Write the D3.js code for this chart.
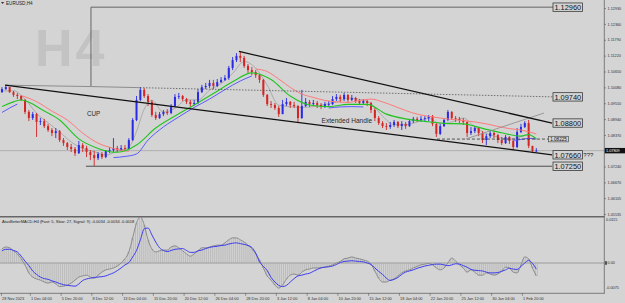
<!DOCTYPE html>
<html>
<head>
<meta charset="utf-8">
<script src="https://cdnjs.cloudflare.com/ajax/libs/d3/7.8.5/d3.min.js"></script>
<style>
  body { margin: 0; background: #d4d4d4; }
  svg { display: block; font-family: "Liberation Sans", Arial, sans-serif; }
</style>
</head>
<body>
<div class="chart"></div>
<script>
// candles, one per two H4 bars, open = previous close
var firstOpen = 1.0991;
var closes = [1.1002,1.1009,1.0991,1.0981,1.0977,1.0963,1.0920,1.0898,1.0912,1.0884,
1.0887,1.0869,1.0855,1.0844,1.0851,1.0819,1.0808,1.0794,1.0787,1.0772,
1.0801,1.0790,1.0776,1.0765,1.0754,1.0769,1.0758,1.0780,1.0783,1.0790,
1.0783,1.0790,1.0787,1.0819,1.0891,1.0963,1.0999,1.0977,1.0956,1.0909,
1.0898,1.0912,1.0920,1.0916,1.0941,1.0974,1.0977,1.0966,1.0956,1.0948,
1.0952,1.0991,1.1009,1.1013,1.1024,1.1013,1.1027,1.1035,1.1042,1.1078,
1.1106,1.1121,1.1114,1.1085,1.1070,1.1063,1.1052,1.1035,1.0981,1.0948,
1.0945,1.0934,1.0912,1.0948,1.0956,1.0945,1.0941,1.0898,1.0941,1.0956,
1.0948,1.0952,1.0945,1.0941,1.0948,1.0948,1.0966,1.0974,1.0966,1.0981,
1.0963,1.0970,1.0959,1.0952,1.0959,1.0952,1.0927,1.0898,1.0880,1.0869,
1.0866,1.0873,1.0884,1.0869,1.0877,1.0869,1.0887,1.0895,1.0891,1.0895,
1.0898,1.0905,1.0877,1.0841,1.0869,1.0891,1.0920,1.0898,1.0895,1.0891,
1.0884,1.0844,1.0851,1.0862,1.0844,1.0819,1.0833,1.0844,1.0837,1.0819,
1.0808,1.0830,1.0816,1.0794,1.0848,1.0866,1.0880,1.0798,1.0780,1.0781];
var highs = [1.1009,1.1015,1.1009,1.0995,1.0988,1.0981,1.0966,1.0927,1.0920,1.0916,
1.0898,1.0895,1.0877,1.0862,1.0862,1.0855,1.0826,1.0812,1.0805,1.0794,
1.0816,1.0808,1.0798,1.0783,1.0780,1.0776,1.0776,1.0783,1.0794,1.0826,
1.0798,1.0801,1.0801,1.0826,1.0898,1.0977,1.1009,1.1006,1.0984,1.0963,
1.0920,1.0920,1.0927,1.0930,1.0948,1.0984,1.0988,1.0981,1.0970,1.0963,
1.0963,1.1002,1.1017,1.1024,1.1035,1.1035,1.1038,1.1045,1.1052,1.1085,
1.1117,1.1131,1.1137,1.1121,1.1092,1.1081,1.1070,1.1056,1.1038,1.0984,
1.0959,1.0952,1.0941,1.0963,1.0970,1.0959,1.0956,1.0945,1.0999,1.0970,
1.0963,1.0963,1.0959,1.0952,1.0956,1.0959,1.0977,1.0984,1.0981,1.0988,
1.0984,1.0981,1.0974,1.0966,1.0966,1.0963,1.0956,1.0934,1.0905,1.0887,
1.0880,1.0884,1.0891,1.0887,1.0887,1.0884,1.0895,1.0902,1.0902,1.0905,
1.0905,1.0909,1.0909,1.0880,1.0877,1.0898,1.0927,1.0923,1.0905,1.0902,
1.0898,1.0887,1.0866,1.0869,1.0866,1.0851,1.0841,1.0851,1.0851,1.0841,
1.0830,1.0837,1.0833,1.0819,1.0862,1.0877,1.0887,1.0891,1.0798,1.0790];
var lows = [1.0988,1.0999,1.0988,1.0974,1.0966,1.0959,1.0912,1.0887,1.0891,1.0830,
1.0873,1.0862,1.0848,1.0833,1.0826,1.0812,1.0798,1.0783,1.0776,1.0762,
1.0769,1.0776,1.0758,1.0747,1.0726,1.0747,1.0751,1.0754,1.0772,1.0776,
1.0776,1.0780,1.0780,1.0783,1.0816,1.0887,1.0959,1.0970,1.0941,1.0902,
1.0891,1.0895,1.0905,1.0909,1.0912,1.0938,1.0966,1.0959,1.0948,1.0938,
1.0941,1.0948,1.0988,1.1002,1.1006,1.1002,1.1009,1.1024,1.1031,1.1035,
1.1070,1.1099,1.1099,1.1078,1.1060,1.1052,1.1042,1.1024,1.0974,1.0941,
1.0934,1.0927,1.0902,1.0912,1.0941,1.0934,1.0934,1.0880,1.0895,1.0938,
1.0938,1.0941,1.0934,1.0930,1.0934,1.0941,1.0945,1.0959,1.0956,1.0959,
1.0952,1.0959,1.0952,1.0945,1.0948,1.0941,1.0916,1.0887,1.0873,1.0862,
1.0855,1.0859,1.0866,1.0862,1.0855,1.0859,1.0866,1.0880,1.0884,1.0884,
1.0887,1.0887,1.0869,1.0830,1.0837,1.0866,1.0887,1.0891,1.0884,1.0880,
1.0873,1.0830,1.0837,1.0844,1.0833,1.0808,1.0801,1.0826,1.0826,1.0808,
1.0801,1.0805,1.0805,1.0783,1.0790,1.0844,1.0862,1.0790,1.0772,1.0776];

// moving averages, [candle index, price]
var maGreen = [[0,1.0939],[3,1.0956],[5,1.0963],[8,1.0948],[10,1.0931],[15,1.0891],[20,1.0823],[25,1.0789],[30,1.0775],[35,1.0801],[40,1.0862],[45,1.0905],[50,1.0945],[55,1.0986],[60,1.1028],[65,1.1060],[70,1.1036],[75,1.0977],[80,1.0945],[85,1.0939],[90,1.0947],[95,1.0947],[100,1.0912],[105,1.0895],[110,1.0886],[115,1.0879],[120,1.0877],[125,1.0861],[130,1.0845],[135,1.0833],[137,1.0839],[139,1.0823]];
var maRed = [
  [[5,1.0979],[9,1.0957],[13,1.0923],[17,1.0891],[21,1.0844],[25,1.0808],[29,1.0789],[33,1.0778]],
  [[66,1.1074],[69,1.1065],[72,1.1038],[75,1.1008],[78,1.0984],[81,1.0972],[84,1.0961],[87,1.0956],[90,1.0954],[93,1.0961],[96,1.0966],[99,1.0956],[102,1.0941],[105,1.0925],[108,1.0912],[111,1.0904],[114,1.0898],[117,1.0893],[120,1.0889],[123,1.0884],[126,1.0877],[129,1.0868],[132,1.0860],[135,1.0855],[139,1.0841]]
];
var maBlue = [
  [[0,1.0918],[2,1.0934],[4,1.0948]],
  [[29,1.0756],[32,1.0760],[35,1.0769],[38,1.0819],[42,1.0866],[46,1.0902],[50,1.0936],[54,1.0966],[58,1.1000],[62,1.1031],[65,1.1049]],
  [[85,1.0934],[88,1.0938],[91,1.0939],[94,1.0938]],
  [[133,1.0818],[135,1.0821],[137,1.0825],[139,1.0823]]
];
// thin grey fast average
var maGrey = [[0,1.0995],[3,1.0996],[6,1.0966],[9,1.0915],[12,1.0881],[15,1.0848],[18,1.0812],[21,1.0789],[24,1.0777],[27,1.0765],[30,1.0779],[33,1.0794],[35,1.0850],[37,1.0930],[39,1.0961],[42,1.0919],[45,1.0933],[48,1.0963],[51,1.0963],[54,1.0998],[57,1.1022],[60,1.1058],[63,1.1101],[66,1.1077],[69,1.1016],[72,1.0944],[75,1.0939],[78,1.0936],[81,1.0939],[84,1.0947],[87,1.0955],[90,1.0970],[93,1.0965],[96,1.0950],[99,1.0905],[102,1.0874],[105,1.0874],[108,1.0884],[111,1.0897],[114,1.0878],[117,1.0884],[120,1.0898],[123,1.0866],[126,1.0842],[129,1.0830],[132,1.0822],[135,1.0831],[137,1.0837],[139,1.0821]];

// macd per candle
var macdMain = [0.0037,0.0042,0.0040,0.0032,0.0024,0.0011,-0.0005,-0.0026,-0.0037,-0.0042,
-0.0045,-0.0050,-0.0053,-0.0050,-0.0055,-0.0062,-0.0061,-0.0058,-0.0053,-0.0045,
-0.0037,-0.0034,-0.0032,-0.0037,-0.0040,-0.0032,-0.0024,-0.0018,-0.0016,-0.0013,
-0.0008,0.0000,0.0011,0.0029,0.0066,0.0105,0.0122,0.0100,0.0061,0.0037,
0.0029,0.0032,0.0034,0.0034,0.0042,0.0045,0.0040,0.0032,0.0024,0.0018,
0.0024,0.0032,0.0040,0.0040,0.0042,0.0045,0.0047,0.0047,0.0053,0.0061,
0.0066,0.0066,0.0061,0.0055,0.0047,0.0037,0.0024,0.0008,-0.0013,-0.0034,
-0.0045,-0.0058,-0.0066,-0.0058,-0.0042,-0.0032,-0.0029,-0.0032,-0.0024,-0.0018,
-0.0016,-0.0013,-0.0013,-0.0012,-0.0011,-0.0008,-0.0005,0.0000,0.0004,0.0011,
0.0013,0.0016,0.0013,0.0011,0.0008,0.0005,-0.0003,-0.0021,-0.0040,-0.0050,
-0.0050,-0.0045,-0.0042,-0.0034,-0.0026,-0.0021,-0.0018,-0.0013,-0.0009,-0.0005,
-0.0003,-0.0001,-0.0005,-0.0013,-0.0018,-0.0013,0.0000,0.0013,0.0005,-0.0005,
-0.0013,-0.0024,-0.0018,-0.0024,-0.0032,-0.0032,-0.0026,-0.0029,-0.0032,-0.0029,
-0.0021,-0.0011,-0.0013,-0.0024,-0.0026,-0.0005,0.0016,0.0011,-0.0013,-0.0034];
var macdSignal = [0.0032,0.0036,0.0036,0.0033,0.0029,0.0018,0.0005,-0.0007,-0.0021,-0.0030,
-0.0037,-0.0041,-0.0043,-0.0047,-0.0050,-0.0054,-0.0057,-0.0059,-0.0060,-0.0061,
-0.0055,-0.0046,-0.0042,-0.0040,-0.0038,-0.0037,-0.0036,-0.0034,-0.0030,-0.0026,
-0.0020,-0.0013,-0.0005,0.0001,0.0016,0.0033,0.0061,0.0090,0.0092,0.0074,
0.0055,0.0040,0.0033,0.0030,0.0033,0.0036,0.0037,0.0038,0.0033,0.0028,
0.0028,0.0032,0.0034,0.0038,0.0041,0.0043,0.0044,0.0046,0.0047,0.0050,
0.0052,0.0053,0.0051,0.0049,0.0046,0.0041,0.0026,0.0003,-0.0009,-0.0020,
-0.0038,-0.0050,-0.0059,-0.0062,-0.0059,-0.0050,-0.0041,-0.0034,-0.0032,-0.0029,
-0.0027,-0.0022,-0.0017,-0.0013,-0.0011,-0.0010,-0.0008,-0.0004,0.0001,0.0004,
0.0005,0.0006,0.0005,0.0004,0.0003,0.0000,-0.0004,-0.0013,-0.0022,-0.0030,
-0.0040,-0.0046,-0.0043,-0.0038,-0.0030,-0.0024,-0.0021,-0.0018,-0.0014,-0.0011,
-0.0008,-0.0006,-0.0004,-0.0003,-0.0003,-0.0005,-0.0007,-0.0005,-0.0002,-0.0003,
-0.0007,-0.0011,-0.0017,-0.0019,-0.0020,-0.0021,-0.0024,-0.0026,-0.0026,-0.0025,
-0.0022,-0.0018,-0.0014,-0.0016,-0.0017,-0.0009,0.0000,0.0007,-0.0001,-0.0016];

// axes
var priceTicks = [1.12930,1.12360,1.11790,1.11220,1.10650,1.10080,1.09510,1.08940,1.08370,1.07240,1.06670,1.06105,1.05535];
var lastPrice = 1.07809;
var tickBars = [0,15,31,47,63,79,95,111,127,143,159,175,191,207,223,239,255,271];
var timeLabels = ["28 Nov 2023","1 Dec 04:00","5 Dec 20:00","8 Dec 12:00","13 Dec 04:00","15 Dec 20:00","20 Dec 12:00","26 Dec 04:00","28 Dec 20:00","3 Jan 12:00","8 Jan 04:00","10 Jan 20:00","15 Jan 12:00","18 Jan 04:00","22 Jan 20:00","25 Jan 12:00","30 Jan 04:00","1 Feb 20:00"];

// drawn objects, [H4 bar, price]
var cupRim = [[2.1,1.1016],[46.8,1.1011],[72.3,1.1007]];
var cupTop = [[46.8,1.1013],[46.8,1.1296],[287.5,1.1296]];
var lowerChannel = [[2.1,1.1016],[286.7,1.0766]];
var upperChannel = [[123.8,1.1137],[286.7,1.0880]];
var handleTop = [[72.3,1.1007],[287.5,1.0974]];
var cupLow = [[44.2,1.0725],[286.7,1.0725]];
var pivotLine = [[226.8,1.08225],[285.1,1.08225]];
var riseLine = [[241.9,1.0823],[282.5,1.0916]];
var levelLabels = ["1.12960","1.09740","1.08800","1.07660","1.07250"];
var levelPrices = [1.12960,1.09740,1.08800,1.07660,1.07250];

var width = 625, height = 303;

var svg = d3.select(".chart").append("svg")
    .attr("width", width)
    .attr("height", height);

svg.append("rect").attr("width", width).attr("height", height).attr("fill", "#d4d4d4");

var x = d3.scaleLinear().domain([0, 280]).range([1, 539.2]);
var y = d3.scaleLinear().domain([1.05535, 1.12930]).range([214, 8]);
var my = d3.scaleLinear().domain([-0.0075, 0.0115]).range([291.5, 219.3]);

// candle k sits on the middle of its two H4 bars
function cx(k) { return x(2 * k + 0.5); }

var defs = svg.append("defs");
defs.append("clipPath").attr("id", "pclip").append("rect")
  .attr("x", 0).attr("y", 0).attr("width", 604).attr("height", 216);
defs.append("clipPath").attr("id", "mclip").append("rect")
  .attr("x", 0).attr("y", 217.5).attr("width", 604).attr("height", 75.5);

// watermark and title
svg.append("text").attr("x", 35).attr("y", 66)
  .style("font-size", "52px").style("font-weight", "bold").style("letter-spacing", "3px")
  .attr("fill", "#c3c3c3").text("H4");
svg.append("path").attr("d", "M1,2 L4.2,2 L2.6,4 Z").attr("fill", "#333");
svg.append("text").attr("x", 6).attr("y", 5).style("font-size", "4.6px").attr("fill", "#222").text("EURUSD,H4");

var price = svg.append("g").attr("clip-path", "url(#pclip)");

// current price line
price.append("line")
  .attr("x1", 0).attr("x2", 604).attr("y1", y(lastPrice)).attr("y2", y(lastPrice))
  .attr("stroke", "#a6a6a6").attr("stroke-width", 0.8);

var barLine = d3.line().x(function (d) { return x(d[0]); }).y(function (d) { return y(d[1]); });

// user objects
function drawObj(pts, color, w, dash) {
  svg.append("path").attr("d", barLine(pts))
    .attr("fill", "none").attr("stroke", color).attr("stroke-width", w)
    .attr("stroke-dasharray", dash || null);
}
drawObj(cupTop, "#5a5a5a", 0.9);
drawObj(cupRim, "#7a7a7a", 0.8);
drawObj(handleTop, "#555", 0.8, "1.5,1.5");
drawObj(cupLow, "#3c3c3c", 0.9);
drawObj(pivotLine, "#333", 0.8, "3,2");
drawObj(riseLine, "#8c8c8c", 0.8);

var maLine = d3.line().x(function (d) { return cx(d[0]); }).y(function (d) { return y(d[1]); })
  .curve(d3.curveMonotoneX);

// grey fast line under the candles
price.append("path").attr("d", maLine(maGrey)).attr("fill", "none")
  .attr("stroke", "#9a9a9a").attr("stroke-width", 0.7);

// candles
var candles = closes.map(function (c, k) {
  return { k: k, o: k === 0 ? firstOpen : closes[k - 1], h: highs[k], l: lows[k], c: c };
});
var cg = price.selectAll(".candle").data(candles).enter().append("g").attr("class", "candle");
cg.append("line")
  .attr("x1", function (d) { return cx(d.k); })
  .attr("x2", function (d) { return cx(d.k); })
  .attr("y1", function (d) { return y(d.h); })
  .attr("y2", function (d) { return y(d.l); })
  .attr("stroke", function (d) { return d.c >= d.o ? "#2a2ae6" : "#d42424"; })
  .attr("stroke-width", 0.9);
cg.append("rect")
  .attr("x", function (d) { return cx(d.k) - 1; })
  .attr("width", 2)
  .attr("y", function (d) { return y(Math.max(d.o, d.c)); })
  .attr("height", function (d) { return Math.max(0.8, Math.abs(y(d.o) - y(d.c))); })
  .attr("fill", function (d) { return d.c >= d.o ? "#2a2ae6" : "#d42424"; });

// moving averages
maRed.forEach(function (seg) {
  price.append("path").attr("d", maLine(seg)).attr("fill", "none")
    .attr("stroke", "#ff7a7a").attr("stroke-width", 1);
});
maBlue.forEach(function (seg) {
  price.append("path").attr("d", maLine(seg)).attr("fill", "none")
    .attr("stroke", "#5a5aff").attr("stroke-width", 1);
});
price.append("path").attr("d", maLine(maGreen)).attr("fill", "none")
  .attr("stroke", "#22c422").attr("stroke-width", 1.1);

// channel lines
drawObj(lowerChannel, "#111", 1.3);
drawObj(upperChannel, "#111", 1.3);

// text objects
svg.append("text").attr("x", 87).attr("y", 115.7).style("font-size", "6.3px").attr("fill", "#2a2a2a").text("CUP");
svg.append("text").attr("x", 321.5).attr("y", 122.7).style("font-size", "6.6px").attr("fill", "#2a2a2a").text("Extended Handle");

// level labels
var lab = svg.selectAll(".lvl").data(levelPrices).enter().append("g").attr("class", "lvl");
lab.append("rect")
  .attr("x", 553).attr("y", function (d) { return y(d) - 4.2; })
  .attr("width", 29.5).attr("height", 8.4)
  .attr("fill", "#d4d4d4").attr("stroke", "#3a3a3a").attr("stroke-width", 0.8);
lab.append("text")
  .attr("x", 567.8).attr("y", function (d) { return y(d) + 2.8; })
  .attr("text-anchor", "middle").style("font-size", "7.4px").attr("fill", "#111")
  .text(function (d, i) { return levelLabels[i]; });
svg.append("rect").attr("x", 548.5).attr("y", y(1.08225) - 2.8).attr("width", 20).attr("height", 5.6)
  .attr("fill", "#d4d4d4").attr("stroke", "#3a3a3a").attr("stroke-width", 0.6);
svg.append("text").attr("x", 558.5).attr("y", y(1.08225) + 1.7).attr("text-anchor", "middle")
  .style("font-size", "4.6px").attr("fill", "#111").text("1.08225");
svg.append("text").attr("x", 583.3).attr("y", y(1.07660) + 2.2).style("font-size", "6px").attr("fill", "#222").text("???");

// price axis
var yAxis = d3.axisRight(y).tickValues(priceTicks).tickFormat(d3.format(".5f")).tickSize(2).tickPadding(1.5);
var ya = svg.append("g").attr("transform", "translate(604,0)").call(yAxis);
ya.select(".domain").remove();
ya.selectAll("line").attr("stroke", "#555").attr("stroke-width", 0.6);
ya.selectAll("text").style("font-size", "3.8px").attr("fill", "#333");

svg.append("rect").attr("x", 604.5).attr("y", y(lastPrice) - 2.7).attr("width", 20.5).attr("height", 5.4).attr("fill", "#111");
svg.append("text").attr("x", 606).attr("y", y(lastPrice) + 1.4).style("font-size", "3.8px").attr("fill", "#fff").text(lastPrice.toFixed(5));

// macd panel
var macd = svg.append("g").attr("clip-path", "url(#mclip)");
macd.append("line").attr("x1", 0).attr("x2", 604).attr("y1", my(0)).attr("y2", my(0))
  .attr("stroke", "#8e8e8e").attr("stroke-width", 0.8);
// histogram drawn on both H4 bars of each candle
[0, 1].forEach(function (half) {
  macd.selectAll(".hist" + half).data(macdMain).enter().append("line")
    .attr("x1", function (d, k) { return x(2 * k + half); })
    .attr("x2", function (d, k) { return x(2 * k + half); })
    .attr("y1", my(0))
    .attr("y2", function (d) { return my(d); })
    .attr("stroke", "#ababab").attr("stroke-width", 0.6);
});
var idxLine = d3.line().x(function (d, k) { return cx(k); }).y(function (d) { return my(d); })
  .curve(d3.curveMonotoneX);
macd.append("path").attr("d", idxLine(macdMain)).attr("fill", "none")
  .attr("stroke", "#8a8a8a").attr("stroke-width", 1);
macd.append("path").attr("d", idxLine(macdSignal)).attr("fill", "none")
  .attr("stroke", "#3c3cf0").attr("stroke-width", 1);

svg.append("text").attr("x", 2).attr("y", 222.6).style("font-size", "4px").attr("fill", "#222")
  .text("AtasBetterMACD-H4 (Fast: 5, Slow: 27, Signal: 9) -0.0034 -0.0034 -0.0018");

svg.append("text").attr("x", 606).attr("y", 220.8).style("font-size", "3.8px").attr("fill", "#333").text("0.0115");
svg.append("rect").attr("x", 604.8).attr("y", my(0) - 1.8).attr("width", 2.2).attr("height", 3.6).attr("fill", "#555");
svg.append("text").attr("x", 607.5).attr("y", my(0) + 1.4).style("font-size", "3.8px").attr("fill", "#333").text("0.00");
svg.append("text").attr("x", 606).attr("y", 288.8).style("font-size", "3.8px").attr("fill", "#333").text("-0.0075");

// frame
svg.append("line").attr("x1", 0).attr("x2", 604.5).attr("y1", 216.8).attr("y2", 216.8)
  .attr("stroke", "#666").attr("stroke-width", 1.6);
svg.append("line").attr("x1", 0).attr("x2", 604.5).attr("y1", 293.3).attr("y2", 293.3)
  .attr("stroke", "#666").attr("stroke-width", 0.8);
svg.append("line").attr("x1", 604.3).attr("x2", 604.3).attr("y1", 0).attr("y2", 293.5)
  .attr("stroke", "#666").attr("stroke-width", 0.8);

// time axis
var xAxis = d3.axisBottom(x).tickValues(tickBars).tickFormat(function (d, i) { return timeLabels[i]; }).tickSize(2.5);
var xa = svg.append("g").attr("transform", "translate(0,293.3)").call(xAxis);
xa.select(".domain").remove();
xa.selectAll("line").attr("stroke", "#555").attr("stroke-width", 0.6);
xa.selectAll("text").attr("text-anchor", "start").attr("x", 0.6).attr("y", 3.6)
  .style("font-size", "3.9px").attr("fill", "#333");
</script>
</body>
</html>
